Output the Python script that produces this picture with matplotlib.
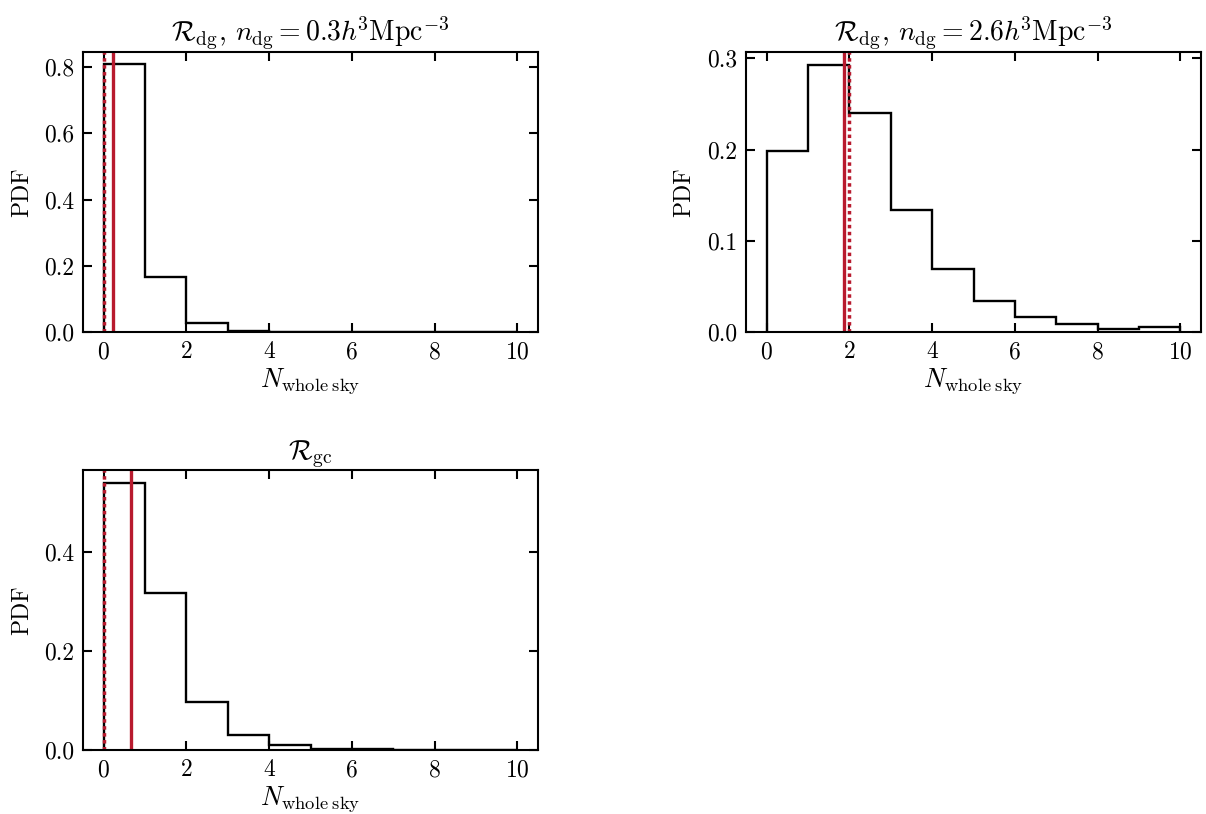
import numpy as np
import matplotlib
matplotlib.use("Agg")
import matplotlib.pyplot as plt

plt.rcParams['font.family'] = 'serif'
plt.rcParams['font.serif'] = ['cmr10']
plt.rcParams['mathtext.fontset'] = 'cm'
plt.rcParams['axes.unicode_minus'] = False
plt.rcParams['axes.formatter.use_mathtext'] = True
plt.rcParams['font.size'] = 17

# bin edges shared by all panels
edges = np.arange(0, 11)

# PDF values per bin
pdf_dg03 = [0.810, 0.165, 0.027, 0.002, 0.0005, 0.0002, 0.0001, 0.0, 0.0, 0.0]
pdf_dg26 = [0.198, 0.293, 0.240, 0.134, 0.069, 0.034, 0.016, 0.009, 0.003, 0.005]
pdf_gc = [0.540, 0.318, 0.098, 0.031, 0.010, 0.003, 0.002, 0.0003, 0.0, 0.0]

# mean (solid) and median (dotted) of each distribution
means = [0.23, 1.86, 0.67]
medians = [0.0, 2.0, 0.0]

titles = [r'$\mathcal{R}_{\rm dg}$, $n_{\rm dg}=0.3h^{\!3}{\rm Mpc}^{-3}$',
          r'$\mathcal{R}_{\rm dg}$, $n_{\rm dg}=2.6h^{\!3}{\rm Mpc}^{-3}$',
          r'$\mathcal{R}_{\rm gc}$']
ylims = [0.846, 0.307, 0.566]
yticks = [[0.0, 0.2, 0.4, 0.6, 0.8], [0.0, 0.1, 0.2, 0.3], [0.0, 0.2, 0.4]]

red = '#B81A2E'
W, H = 1206, 814
fig = plt.figure(figsize=(W / 100, H / 100), dpi=100)

# axes boxes in pixels: left, top, width, height
boxes = [(83, 52, 455, 280), (746, 52, 455, 280), (83, 470, 455, 280)]

for i, pdf in enumerate([pdf_dg03, pdf_dg26, pdf_gc]):
    l, t, w, h = boxes[i]
    ax = fig.add_axes([l / W, 1 - (t + h) / H, w / W, h / H])
    ax.stairs(pdf, edges, color='black', lw=1.7)
    ax.axvline(means[i], color=red, lw=2.4)
    ax.axvline(medians[i], color=red, lw=2.5, linestyle=(0, (1, 1)))
    ax.set_xlim(-0.5, 10.5)
    ax.set_ylim(0, ylims[i])
    ax.set_xticks([0, 2, 4, 6, 8, 10])
    ax.set_yticks(yticks[i])
    ax.set_yticklabels([f'{v:.1f}' for v in yticks[i]])
    ax.tick_params(direction='in', top=True, right=True, length=6.5, width=1.5, pad=6.5)
    for s in ax.spines.values():
        s.set_linewidth(1.5)
    ax.set_title(titles[i], pad=8, fontsize=20)
    ax.set_ylabel('PDF', labelpad=8, fontsize=17)
    ax.set_xlabel(r'$N_{\rm whole\;sky}$', labelpad=2, fontsize=19)

fig.savefig('out.png', dpi=100)
